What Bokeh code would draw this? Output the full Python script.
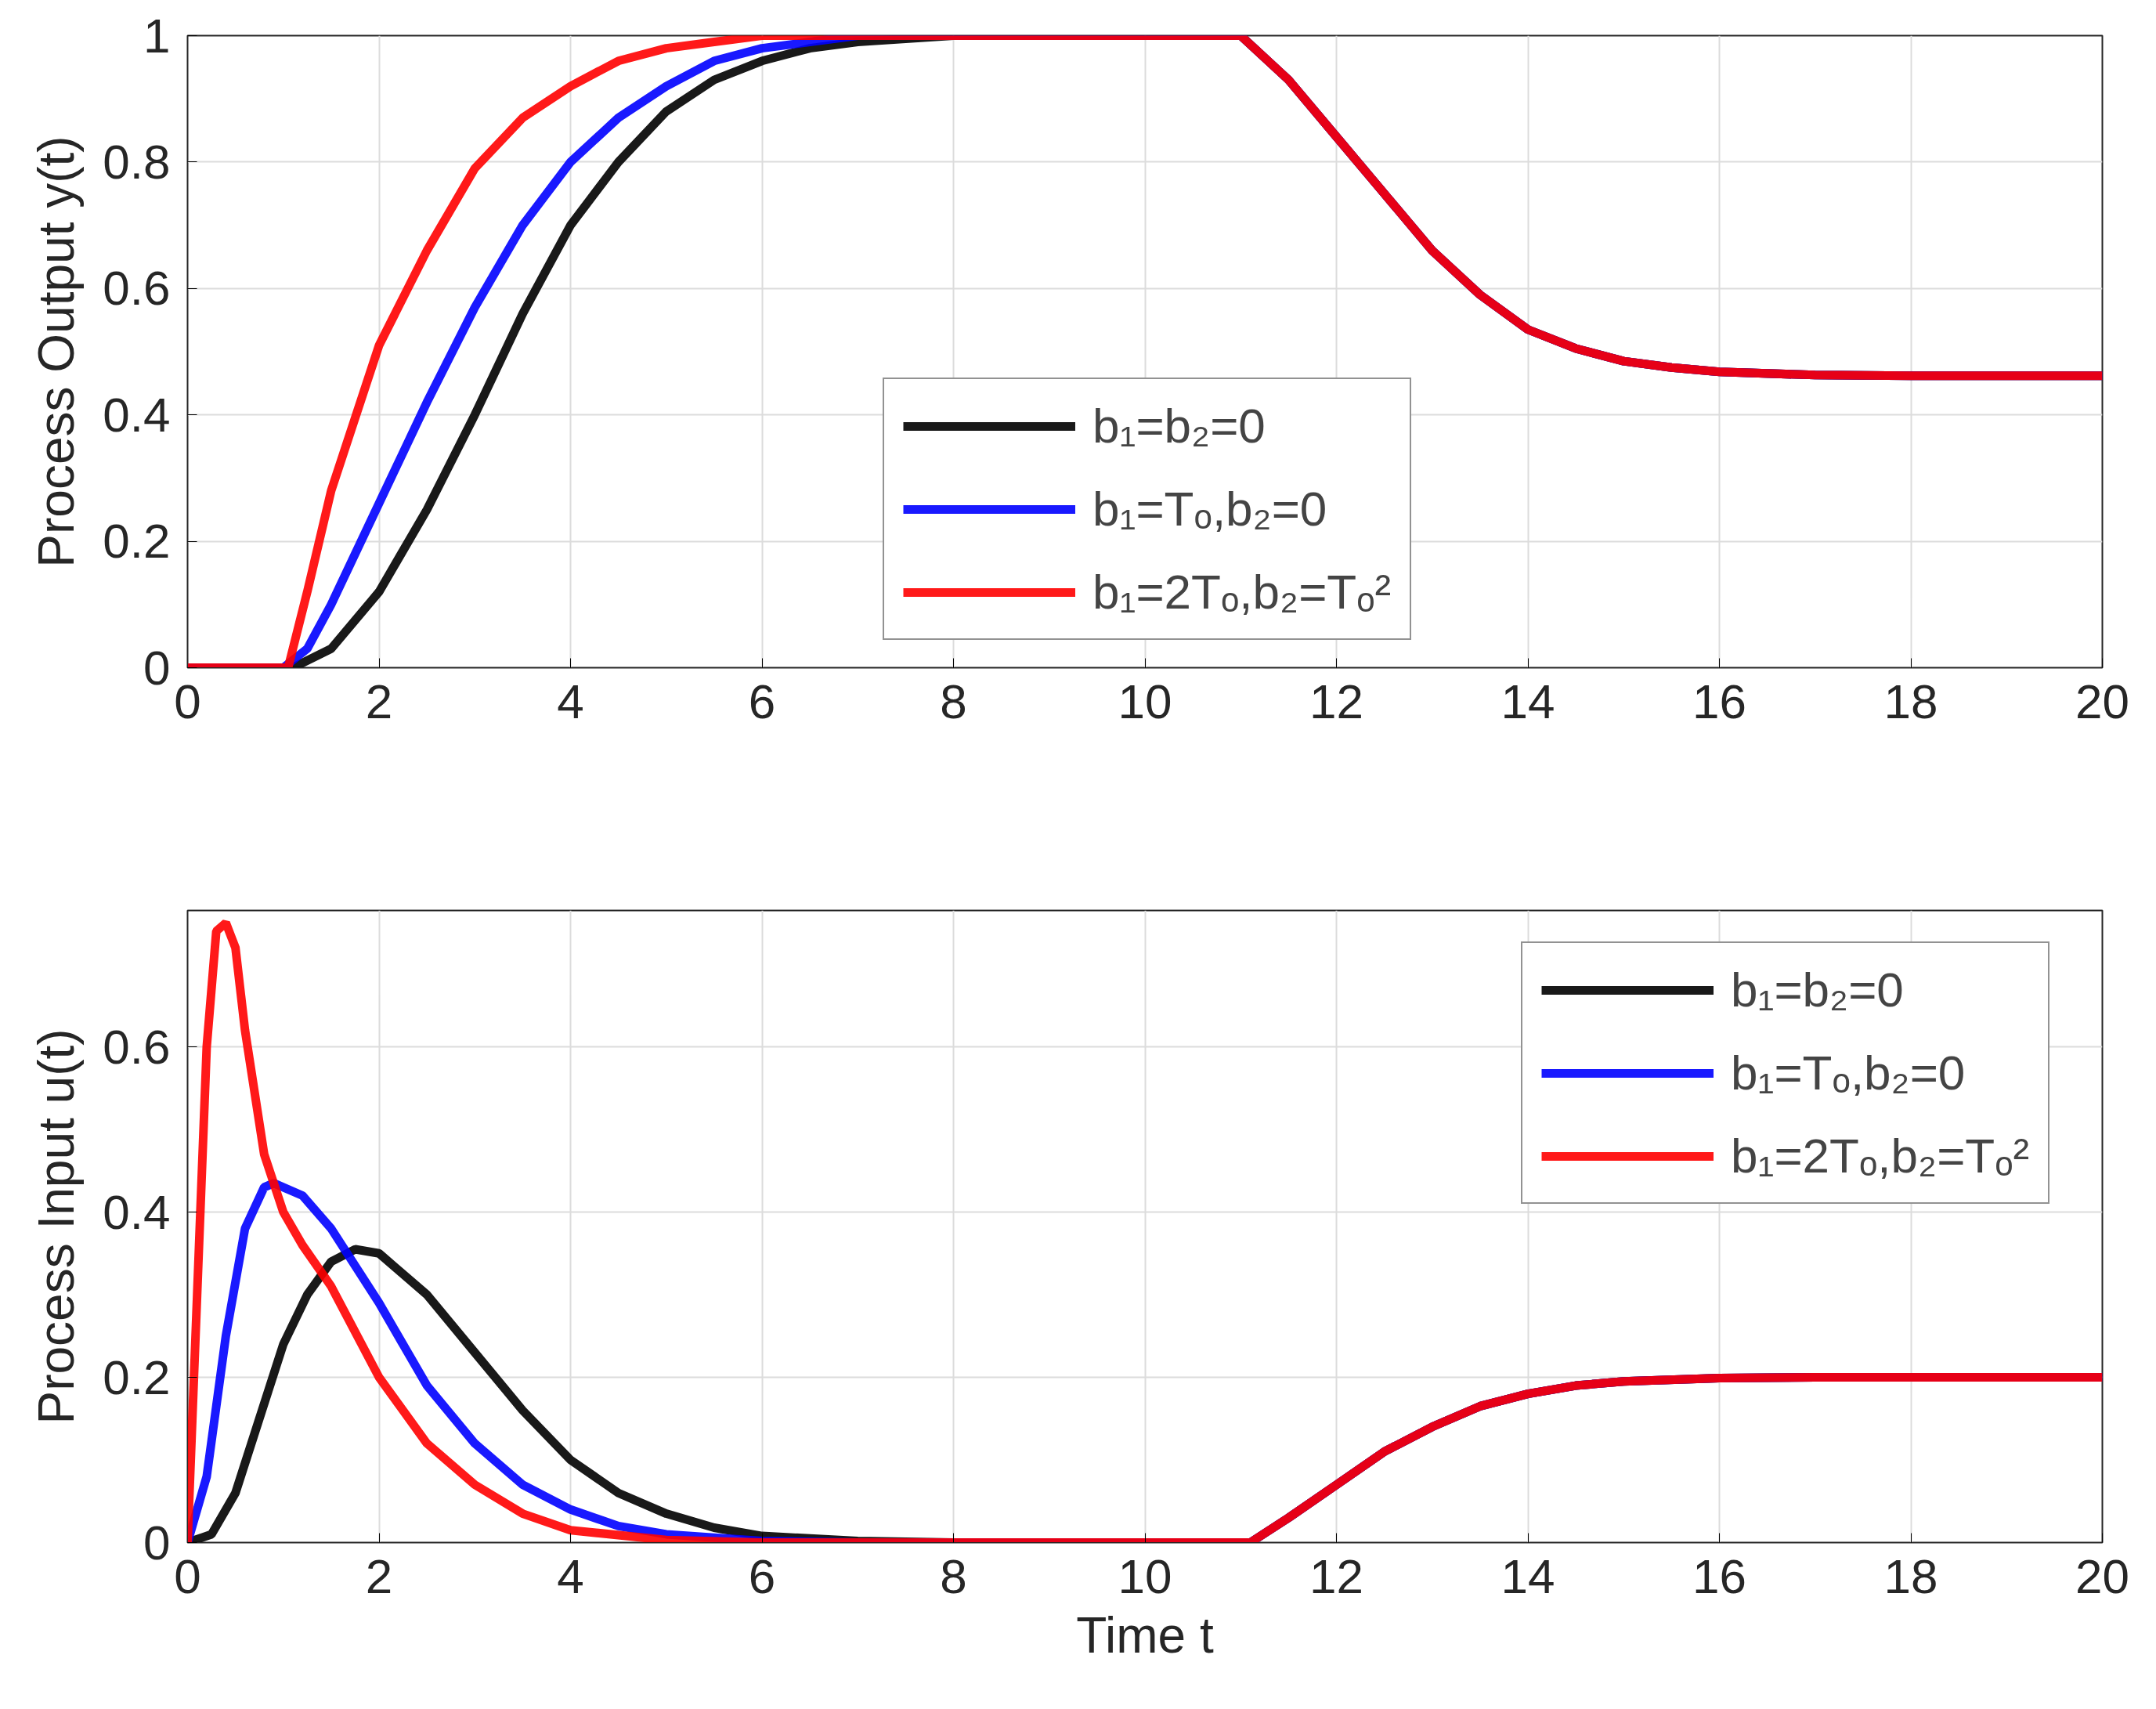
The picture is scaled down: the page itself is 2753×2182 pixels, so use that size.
from bokeh.plotting import figure
from bokeh.layouts import column
from bokeh.models import Legend, LegendItem, FixedTicker, Range1d
from bokeh.embed import file_html
from bokeh.resources import INLINE

labels = ["b\u2081=b\u2082=0", "b\u2081=T\u2092,b\u2082=0", "b\u2081=2T\u2092,b\u2082=T\u2092\u00b2"]
colors = ["black", "blue", "red"]

# common tail of process output after t=11
y_tail_t = [11, 11.5, 12, 12.5, 13, 13.5, 14, 14.5, 15, 15.5, 16, 17, 18, 20]
y_tail_v = [1.0, 0.93, 0.84, 0.75, 0.66, 0.59, 0.535, 0.505, 0.485, 0.475, 0.468, 0.463, 0.462, 0.462]

y_black_t = [0, 1.1, 1.5, 2, 2.5, 3, 3.5, 4, 4.5, 5, 5.5, 6, 6.5, 7, 8]
y_black_v = [0, 0, 0.03, 0.12, 0.25, 0.40, 0.56, 0.70, 0.80, 0.88, 0.93, 0.96, 0.98, 0.99, 1.0]
y_blue_t = [0, 1.0, 1.25, 1.5, 2, 2.5, 3, 3.5, 4, 4.5, 5, 5.5, 6, 6.5, 7]
y_blue_v = [0, 0, 0.03, 0.10, 0.26, 0.42, 0.57, 0.70, 0.80, 0.87, 0.92, 0.96, 0.98, 0.99, 1.0]
y_red_t = [0, 1.05, 1.25, 1.5, 2, 2.5, 3, 3.5, 4, 4.5, 5, 5.5, 6]
y_red_v = [0, 0, 0.12, 0.28, 0.51, 0.66, 0.79, 0.87, 0.92, 0.96, 0.98, 0.99, 1.0]

u_tail_t = [11.1, 11.5, 12, 12.5, 13, 13.5, 14, 14.5, 15, 16, 17, 20]
u_tail_v = [0, 0.03, 0.07, 0.11, 0.14, 0.165, 0.18, 0.19, 0.195, 0.199, 0.2, 0.2]

u_black_t = [0, 0.25, 0.5, 0.75, 1, 1.25, 1.5, 1.75, 2, 2.5, 3, 3.5, 4, 4.5, 5, 5.5, 6, 7, 8]
u_black_v = [0, 0.01, 0.06, 0.15, 0.24, 0.30, 0.34, 0.355, 0.35, 0.30, 0.23, 0.16, 0.10, 0.06, 0.035, 0.018, 0.008, 0.002, 0]
u_blue_t = [0, 0.2, 0.4, 0.6, 0.8, 0.9, 1.2, 1.5, 2, 2.5, 3, 3.5, 4, 4.5, 5, 6, 7]
u_blue_v = [0, 0.08, 0.25, 0.38, 0.43, 0.435, 0.42, 0.38, 0.29, 0.19, 0.12, 0.07, 0.04, 0.02, 0.01, 0.002, 0]
u_red_t = [0, 0.1, 0.2, 0.3, 0.4, 0.5, 0.6, 0.8, 1.0, 1.2, 1.5, 2, 2.5, 3, 3.5, 4, 5, 6]
u_red_v = [0, 0.3, 0.6, 0.74, 0.75, 0.72, 0.62, 0.47, 0.40, 0.36, 0.31, 0.20, 0.12, 0.07, 0.035, 0.015, 0.003, 0]

x_ticks = list(range(0, 21, 2))
y1_ticks = [0, 0.2, 0.4, 0.6, 0.8, 1]
y2_ticks = [0, 0.2, 0.4, 0.6]

FONT = "Liberation Sans"

def make(ymax, yticks, ylabel, xlabel, top, bottom):
    p = figure(output_backend="svg", toolbar_location=None,
               frame_width=2445, frame_height=807,
               min_border_left=239, min_border_right=50,
               min_border_top=top, min_border_bottom=bottom,
               x_range=Range1d(0, 20), y_range=Range1d(0, ymax))
    p.xaxis.ticker = FixedTicker(ticks=x_ticks)
    p.yaxis.ticker = FixedTicker(ticks=yticks)
    p.yaxis.major_label_overrides = {t: (str(t) if t not in (0, 1) else str(int(t))) for t in yticks}
    for ax in (p.xaxis, p.yaxis):
        ax.major_label_text_font = FONT
        ax.major_label_text_font_size = "62px"
        ax.major_label_text_color = "#262626"
        ax.major_label_standoff = 22
        ax.axis_label_text_font = FONT
        ax.axis_label_text_font_size = "64px"
        ax.axis_label_text_font_style = "normal"
        ax.axis_label_text_color = "#262626"
        ax.minor_tick_line_color = None
        ax.major_tick_in = 12
        ax.major_tick_out = 0
        ax.axis_line_color = "#262626"
    p.yaxis.axis_label = ylabel
    p.yaxis.axis_label_standoff = 20
    if xlabel:
        p.xaxis.axis_label = xlabel
        p.xaxis.axis_label_standoff = 15
    p.grid.grid_line_color = "#dcdcdc"
    p.grid.grid_line_width = 2
    p.outline_line_color = "#262626"
    p.outline_line_width = 2
    return p

def legend_for(p, rs, loc):
    items = [LegendItem(label=l, renderers=[r]) for l, r in zip(labels, rs)]
    lg = Legend(items=items, location=loc, label_text_font=FONT, label_text_font_size="62px",
                glyph_width=220, glyph_height=70, label_standoff=22, spacing=35,
                padding=24, border_line_color="#262626", border_line_width=2,
                background_fill_alpha=1.0, margin=0)
    p.add_layout(lg)

p1 = make(1.0, y1_ticks, "Process Output y(t)", None, 45, 265)
r1 = []
for (t, v), c in zip([(y_black_t, y_black_v), (y_blue_t, y_blue_v), (y_red_t, y_red_v)], colors):
    r1.append(p1.line(t + y_tail_t, v + y_tail_v, line_color=c, line_width=11, line_alpha=0.9))
legend_for(p1, r1, (888, 35))

p2 = make(0.765, y2_ticks, "Process Input u(t)", "Time t", 45, 180)
r2 = []
for (t, v), c in zip([(u_black_t, u_black_v), (u_blue_t, u_blue_v), (u_red_t, u_red_v)], colors):
    r2.append(p2.line(t + u_tail_t, v + u_tail_v, line_color=c, line_width=11, line_alpha=0.9))
legend_for(p2, r2, (1703, 432))

layout = column(p1, p2, spacing=0)
open("out.html", "w").write(file_html(layout, INLINE))
